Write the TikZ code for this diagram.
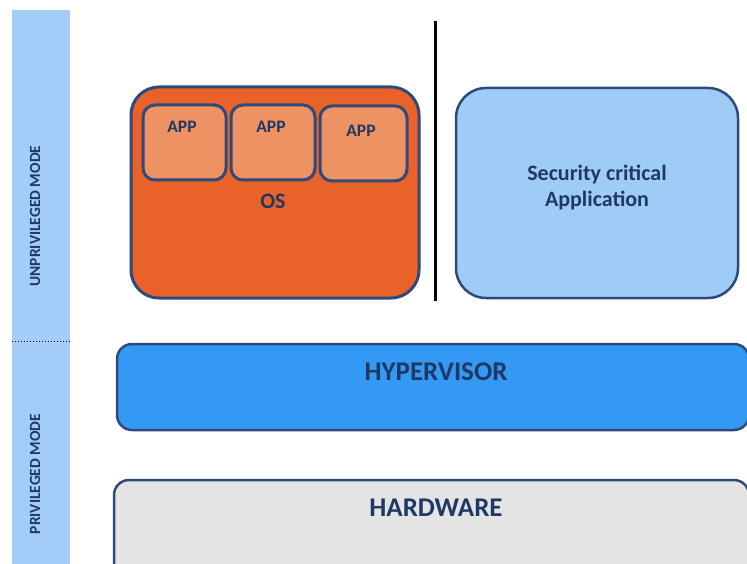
\documentclass[tikz,border=0pt]{standalone}
\usepackage{fontspec}
\setmainfont{Carlito}
\definecolor{navy}{HTML}{1F3864}
\definecolor{edge}{HTML}{2E4A78}
\definecolor{osfill}{HTML}{E8622A}
\definecolor{appfill}{HTML}{EE9163}
\definecolor{secfill}{HTML}{9FCBF7}
\definecolor{hypfill}{HTML}{3399F5}
\definecolor{hwfill}{HTML}{E4E4E4}
\definecolor{barfill}{HTML}{A3CDF8}
\begin{document}
\begin{tikzpicture}[x=1pt,y=-1pt,
  lbl/.style={text=navy,font=\bfseries},
  osbox/.style={draw=edge,line width=3pt,fill=osfill,rounded corners=28pt},
  appbox/.style={draw=edge,line width=3pt,fill=appfill,rounded corners=12pt},
  secbox/.style={draw=edge,line width=2.5pt,fill=secfill,rounded corners=30pt},
  layerbox/.style={draw=edge,line width=2.5pt,rounded corners=15pt}]
\useasboundingbox (0,0) rectangle (747,564);
\begin{scope}
\clip (0,0) rectangle (747,564);
% left mode bar
\fill[barfill] (12,10) rectangle (70,570);
\draw[black,line width=1pt,dotted] (12,341) -- (72,341);
\node[lbl,rotate=90,font=\bfseries\fontsize{15.5}{17}\selectfont] (unpriv) at (35,216) {UNPRIVILEGED MODE};
\node[lbl,rotate=90,font=\bfseries\fontsize{15.5}{17}\selectfont] (priv) at (35,474) {PRIVILEGED MODE};
% OS box
\draw[osbox] (131,87) rectangle (419,298);
\draw[appbox] (143,105) rectangle (226,180);
\draw[appbox] (231,105) rectangle (315,180);
\draw[appbox] (320,106) rectangle (407,181);
\node[lbl,font=\bfseries\fontsize{17.5}{19}\selectfont] (app1) at (182,127) {APP};
\node[lbl,font=\bfseries\fontsize{17.5}{19}\selectfont] (app2) at (271,127) {APP};
\node[lbl,font=\bfseries\fontsize{17.5}{19}\selectfont] (app3) at (361,131) {APP};
\node[lbl,font=\bfseries\fontsize{22}{24}\selectfont] (os) at (273,201) {OS};
% separator
\draw[black,line width=3pt] (435,21) -- (435,301);
% security box
\draw[secbox] (456,88) rectangle (738,298);
\node[lbl,align=center,font=\bfseries\fontsize{22}{26}\selectfont] (sec) at (597,187) {Security critical\\Application};
% hypervisor
\draw[layerbox,fill=hypfill] (117,344) rectangle (749,430);
\node[lbl,font=\bfseries\fontsize{27}{29}\selectfont] (hyp) at (436,372) {HYPERVISOR};
% hardware
\draw[layerbox,fill=hwfill] (114,480) rectangle (749,580);
\node[lbl,font=\bfseries\fontsize{27}{29}\selectfont] (hw) at (436,508) {HARDWARE};
\end{scope}
\end{tikzpicture}
\end{document}
